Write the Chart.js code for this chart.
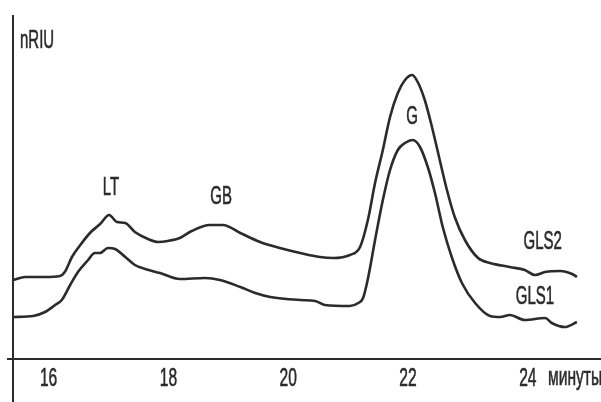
<!DOCTYPE html>
<html>
<head>
<meta charset="utf-8">
<script src="https://cdn.jsdelivr.net/npm/chart.js@4.4.0/dist/chart.umd.min.js"></script>
<style>
  body { margin: 0; background: #fff; }
  #myChart { display: block; }
</style>
</head>
<body>
<canvas id="myChart" width="601" height="402"></canvas>
<script>
//retention time (minutes) and detector response for GLS2 (upper trace)
const timeGLS2 = [15.41, 15.61, 15.94, 16.19, 16.27, 16.39, 16.53, 16.69, 16.86, 17.01, 17.14, 17.28, 17.44, 17.66, 17.83, 17.99,
  18.19, 18.39, 18.69, 18.91, 19.20, 19.53, 19.86, 20.20, 20.53, 20.75, 21.03, 21.20, 21.33, 21.45, 21.58, 21.70, 21.83, 21.95,
  22.07, 22.17, 22.28, 22.40, 22.53, 22.65, 22.78, 22.95, 23.17, 23.37, 23.70, 23.95, 24.12, 24.29, 24.54, 24.74, 24.82];
const valuesGLS2 = [7.9, 8.2, 8.2, 8.3, 8.7, 10.2, 11.4, 12.6, 13.5, 14.4, 13.7, 13.6, 12.7, 12.0, 11.7, 11.8,
  12.1, 12.8, 13.4, 13.4, 12.6, 11.7, 11.1, 10.6, 10.2, 10.1, 10.4, 11.2, 13.9, 17.6, 20.9, 24.2, 26.6, 27.9,
  28.4, 27.6, 25.9, 23.2, 19.9, 16.9, 14.2, 11.9, 10.1, 9.6, 9.2, 8.9, 8.4, 8.7, 8.8, 8.5, 8.2];

//retention time (minutes) and detector response for GLS1 (lower trace)
const timeGLS1 = [15.41, 15.74, 15.94, 16.11, 16.22, 16.36, 16.49, 16.66, 16.77, 16.86, 16.99, 17.11, 17.28, 17.44, 17.61, 17.86,
  18.19, 18.61, 18.86, 19.20, 19.45, 19.70, 20.20, 20.45, 20.61, 21.03, 21.17, 21.25, 21.33, 21.45, 21.58, 21.70, 21.83, 21.95,
  22.08, 22.20, 22.33, 22.45, 22.58, 22.73, 22.90, 23.12, 23.37, 23.54, 23.70, 23.95, 24.29, 24.40, 24.62, 24.82];
const valuesGLS1 = [4.2, 4.3, 4.7, 5.4, 5.9, 7.4, 8.7, 9.9, 10.6, 10.6, 11.1, 11.0, 10.2, 9.4, 9.0, 8.6,
  8.0, 8.1, 7.9, 7.2, 6.6, 6.2, 5.9, 5.8, 5.4, 5.3, 5.6, 6.1, 8.0, 11.9, 15.9, 18.9, 20.9, 21.6,
  21.9, 21.2, 19.2, 16.6, 13.2, 10.2, 7.6, 5.6, 4.3, 4.2, 4.4, 3.9, 4.1, 3.6, 3.2, 3.7];

//axis ticks
const xTicks = [16, 18, 20, 22, 24];

//peak and trace names, anchored in data units
const labelText = ['LT', 'GB', 'G', 'GLS2', 'GLS1'];
const labelTime = [17.04, 18.88, 22.07, 24.25, 24.12];
const labelValue = [17.3, 16.4, 24.4, 11.9, 6.4];

const toPoints = (xs, ys) => xs.map((x, i) => ({ x: x, y: ys[i] }));

const ink = '#2b2b2b';
const fontFamily = "'Liberation Sans', Arial, sans-serif";

//draws condensed text, centred on x, with the cap centre on y
function narrowText(ctx, text, x, y, size, align) {
  const sx = 0.6;
  ctx.save();
  ctx.font = size + 'px ' + fontFamily;
  ctx.fillStyle = ink;
  ctx.strokeStyle = ink;
  ctx.lineWidth = 0.6;
  ctx.textBaseline = 'alphabetic';
  ctx.textAlign = align || 'center';
  ctx.translate(x, y + size * 0.358);
  ctx.scale(sx, 1);
  ctx.fillText(text, 0, 0);
  ctx.strokeText(text, 0, 0);
  ctx.restore();
}

//axes, tick labels and annotations
const plugin = {
  id: 'chromatogramDecor',
  afterDraw: (chart) => {
    const { ctx, chartArea } = chart;
    const xs = chart.scales.x;
    const ys = chart.scales.y;
    ctx.save();
    ctx.strokeStyle = ink;
    ctx.lineWidth = 2;
    ctx.beginPath();
    ctx.moveTo(chartArea.left + 1, 15);
    ctx.lineTo(chartArea.left + 1, chart.height);
    ctx.moveTo(7, ys.getPixelForValue(0));
    ctx.lineTo(chart.width, ys.getPixelForValue(0));
    ctx.stroke();
    ctx.restore();

    xTicks.forEach((t) => {
      narrowText(ctx, String(t), xs.getPixelForValue(t), 377, 26);
    });
    narrowText(ctx, 'минуты', 548, 376, 26, 'left');
    narrowText(ctx, 'nRIU', 20, 39, 25, 'left');

    labelText.forEach((txt, i) => {
      narrowText(ctx, txt, xs.getPixelForValue(labelTime[i]), ys.getPixelForValue(labelValue[i]), 25);
    });
  }
};

const config = {
  type: 'line',
  data: {
    datasets: [{
      label: 'GLS2',
      data: toPoints(timeGLS2, valuesGLS2),
      borderColor: ink,
      borderWidth: 2.6,
      pointRadius: 0,
      cubicInterpolationMode: 'monotone',
      fill: false
    },
    {
      label: 'GLS1',
      data: toPoints(timeGLS1, valuesGLS1),
      borderColor: ink,
      borderWidth: 2.6,
      pointRadius: 0,
      cubicInterpolationMode: 'monotone',
      fill: false
    }]
  },
  plugins: [plugin],
  options: {
    responsive: false,
    animation: false,
    layout: {
      padding: { left: 12, top: 15, right: 0, bottom: 43 }
    },
    plugins: {
      legend: { display: false },
      tooltip: { enabled: false }
    },
    scales: {
      x: {
        type: 'linear',
        display: false,
        min: 15.389,
        max: 25.222
      },
      y: {
        display: false,
        min: 0,
        max: 34.4
      }
    }
  }
};

let myChart = new Chart(
  document.getElementById('myChart'),
  config
);
</script>
</body>
</html>
